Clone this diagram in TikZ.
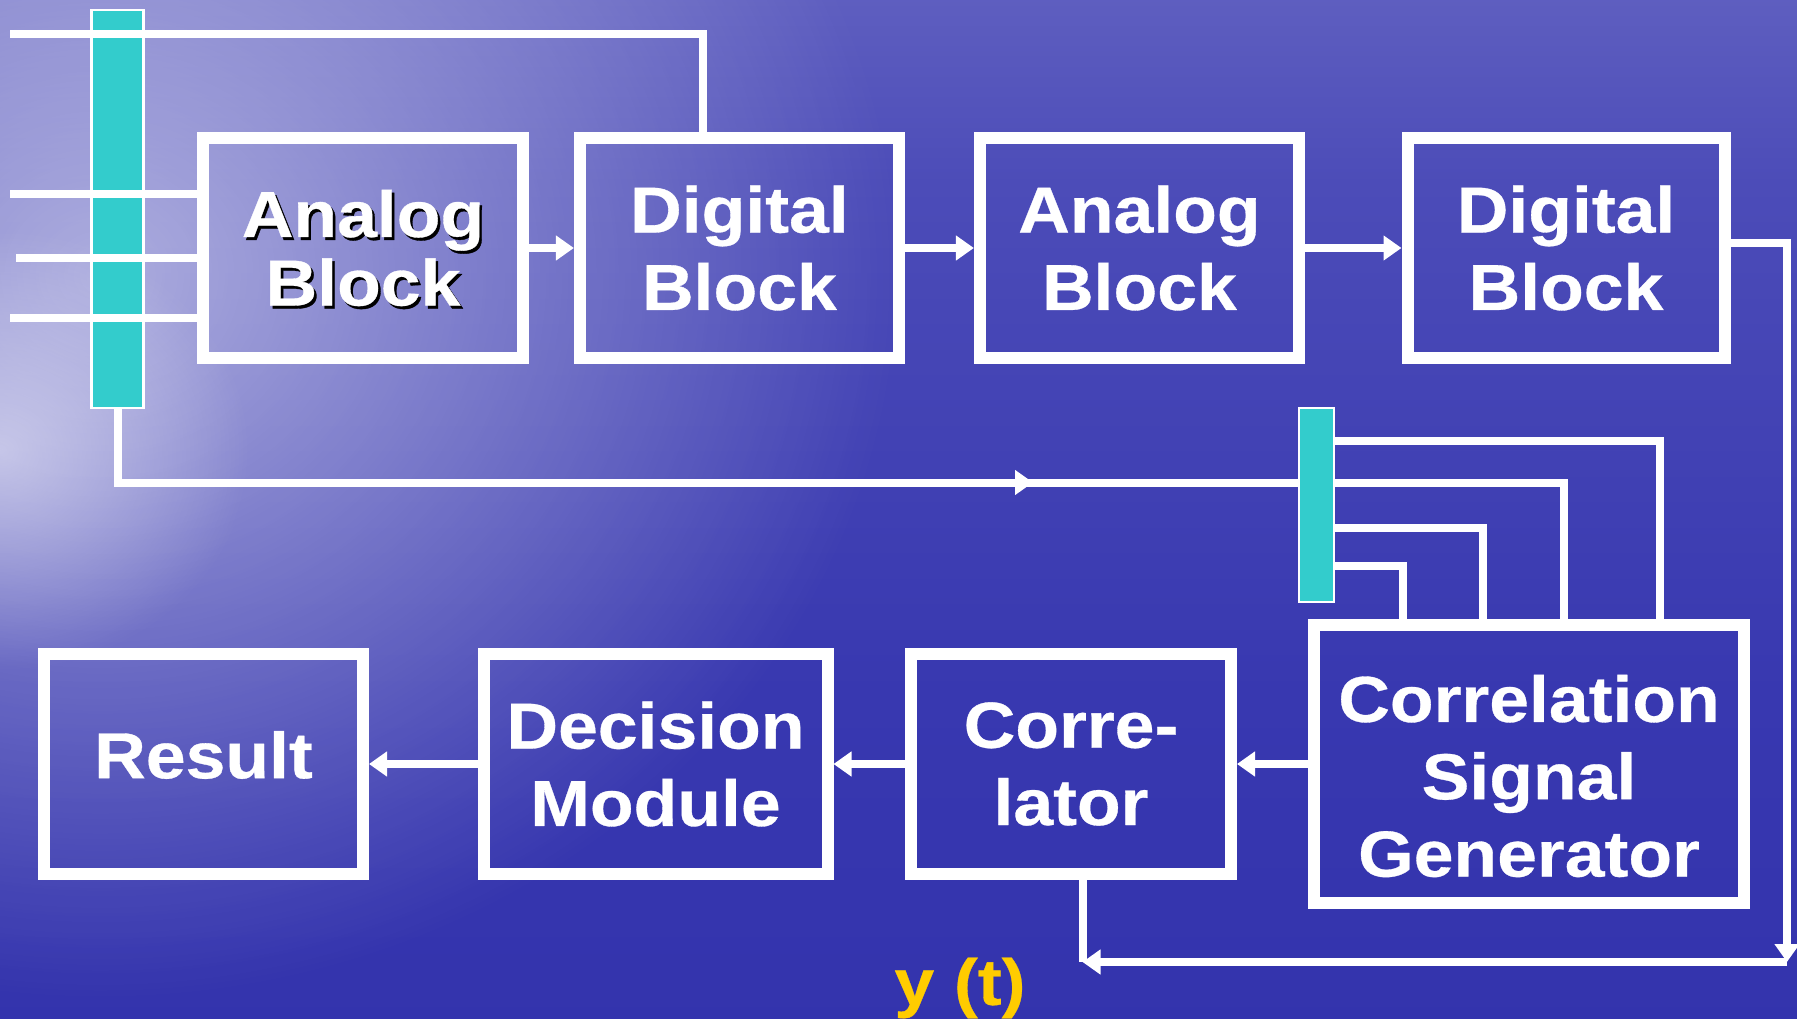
\documentclass[tikz,border=0pt]{standalone}
\usepackage{fontspec}
\usepackage{xcolor}
\usepackage{tikz}
\usetikzlibrary{arrows.meta,positioning,calc,fadings}

\newfontfamily\blkfont[FakeStretch=1.1, BoldFeatures={FakeBold=0.5}]{Liberation Sans}

\definecolor{seaA}{HTML}{2C2CA8}
\definecolor{seaB}{HTML}{3838B0}
\definecolor{seaC}{HTML}{4C4CB8}
\definecolor{seaD}{HTML}{7272C8}
\definecolor{seaE}{HTML}{9C9CD6}
\definecolor{seaF}{HTML}{7C7CCC}
\definecolor{seaG}{HTML}{6A6AC4}
\definecolor{busclr}{HTML}{33CCCC}
\definecolor{sigclr}{HTML}{FFCC00}

\pgfdeclareverticalshading{seasky}{100bp}{color(0bp)=(seaA); color(41bp)=(seaB);
  color(66bp)=(seaC); color(85bp)=(seaD); color(89bp)=(seaE); color(92bp)=(seaF);
  color(100bp)=(seaG)}
\tikzfading[name=glow, inner color=transparent!0, outer color=transparent!100]

\begin{document}
\begin{tikzpicture}[
  blk/.style={rectangle, draw=white, line width=0.12cm, text=white,
              font=\blkfont\bfseries\fontsize{18.5}{22}\selectfont,
              minimum width=3.19cm, minimum height=2.2cm, inner sep=0pt, align=center},
  tight/.style={font=\blkfont\bfseries\fontsize{18.5}{19.5}\selectfont},
  txt/.style={text=white, font=\blkfont\bfseries\fontsize{18.5}{22}\selectfont,
              inner sep=0pt, align=center},
  bus/.style={rectangle, draw=white, line width=0.6pt, fill=busclr, inner sep=0pt},
  wire/.style={draw=white, line width=0.08cm},
  arr/.style={wire, -{Triangle[length=1.8mm,width=2.4mm]}},
]

%% background
\useasboundingbox (0,0) rectangle (17.97,-10.19);
\shade[shading=seasky] (0,0) rectangle (17.97,-10.19);
\fill[white, path fading=glow, fill opacity=0.55] (-7,4.5) rectangle (9,-10);
\fill[white, path fading=glow, fill opacity=0.5] (-2.5,-2.3) rectangle (2.5,-6.7);

%% buses
\node[bus, minimum width=0.52cm, minimum height=3.98cm] (bus1) at (1.175,-2.09) {};
\node[bus, minimum width=0.35cm, minimum height=1.94cm] (bus2) at (13.165,-5.05) {};

%% top row
\node[blk, tight, draw=none, text=black] (AB1s) at (3.655,-2.51) {Analog\\Block};
\node[blk, tight, minimum width=3.2cm] (AB1) at (3.63,-2.48) {Analog\\Block};
\node[blk] (DB1) at (7.394,-2.48) {Digital\\Block};
\node[blk] (AB2) at (11.394,-2.48) {Analog\\Block};
\node[blk, minimum width=3.17cm] (DB2) at (15.66,-2.48) {Digital\\Block};

%% bottom row
\node[blk] (Res) at (2.035,-7.64) {};
\node[txt] (Rest) at ([yshift=0.09cm]Res.center) {Result};
\node[blk, minimum width=3.44cm] (Dec) at (6.555,-7.64) {Decision\\Module};
\node[blk, minimum width=3.2cm] (Corr) at (10.71,-7.64) {Corre-\\lator};
\node[blk, minimum width=4.3cm, minimum height=2.78cm] (CSG) at (15.29,-7.64) {};
\node[txt] (CSGt) at ([yshift=-0.12cm]CSG.center) {Correlation\\Signal\\Generator};

%% inputs
\coordinate (in0) at (0.10,-0.34);
\coordinate (in1) at (0.10,-1.94);
\coordinate (in2) at (0.16,-2.58);
\coordinate (in3) at (0.10,-3.18);
\draw[wire] (in0) -| ([xshift=-0.36cm]DB1.north);
\foreach \p in {in1,in2,in3}
  \draw[wire] (\p) -- (\p -| AB1.west);

%% signal chain
\draw[arr] (AB1) -- (DB1);
\draw[arr] (DB1) -- (AB2);
\draw[arr] (AB2) -- (DB2);
\draw[arr] (CSG) -- (Corr);
\draw[arr] (Corr) -- (Dec);
\draw[arr] (Dec) -- (Res);

% bus 1 to bus 2
\coordinate (m1) at (10.33,-4.825);
\draw[wire] (bus1.south) |- (bus2.west |- m1);
\draw[arr] (bus1.south |- m1) -- (m1);

% bus 2 to generator
\foreach \dy/\dx in {0.645/1.305, 0.225/0.345, -0.225/-0.46, -0.605/-1.26}
  \draw[wire] ([yshift=\dy cm]bus2.east) -| ([xshift=\dx cm]CSG.north);

% feedback y(t)
\coordinate (c1) at (17.87,-9.62);
\coordinate (yin) at ([xshift=0.115cm]Corr.south);
\draw[arr] ([yshift=0.055cm]DB2.east) -| (c1);
\draw[arr] (c1) -- (c1 -| yin);
\draw[wire] (yin) -- (c1 -| yin);
\node[font=\blkfont\bfseries\fontsize{18.5}{22}\selectfont, text=sigclr] (ysig)
  at (9.60,-9.88) {y (t)};

\end{tikzpicture}
\end{document}
